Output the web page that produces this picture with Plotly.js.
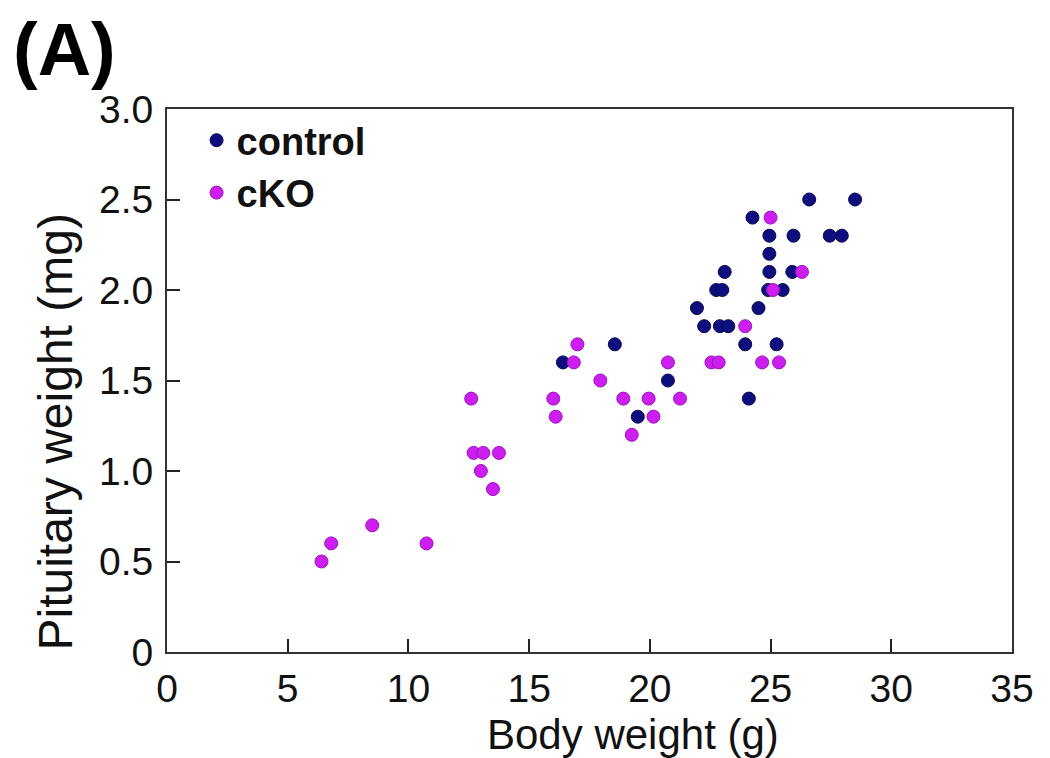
<!DOCTYPE html>
<html>
<head>
<meta charset="utf-8">
<script src="https://cdn.plot.ly/plotly-3.0.1.min.js"></script>
<style>html,body{margin:0;padding:0;background:#fff;}#chart{width:1050px;height:758px;}</style>
</head>
<body>
<div id="chart"></div>
<script>
// Body weight (g) and pituitary weight (mg)
const controlX = [26.6, 28.5, 24.25, 24.95, 25.95, 27.45, 27.95, 24.95, 23.1, 24.95, 25.9, 22.75, 23.0, 24.9, 25.5, 21.95, 24.5, 22.25, 22.9, 23.25, 23.95, 25.25, 20.75, 24.1, 19.5, 18.55, 16.4];
const controlY = [2.5, 2.5, 2.4, 2.3, 2.3, 2.3, 2.3, 2.2, 2.1, 2.1, 2.1, 2.0, 2.0, 2.0, 2.0, 1.9, 1.9, 1.8, 1.8, 1.8, 1.7, 1.7, 1.5, 1.4, 1.3, 1.7, 1.6];
const ckoX = [25.0, 26.3, 25.1, 23.95, 20.75, 22.55, 22.85, 24.65, 25.35, 19.95, 21.25, 20.15, 17.0, 16.85, 17.95, 16.0, 18.9, 16.1, 19.25, 12.6, 12.7, 13.1, 13.75, 13.0, 13.5, 8.5, 6.8, 10.75, 6.4];
const ckoY = [2.4, 2.1, 2.0, 1.8, 1.6, 1.6, 1.6, 1.6, 1.6, 1.4, 1.4, 1.3, 1.7, 1.6, 1.5, 1.4, 1.4, 1.3, 1.2, 1.4, 1.1, 1.1, 1.1, 1.0, 0.9, 0.7, 0.6, 0.6, 0.5];
const xTicks = [0, 5, 10, 15, 20, 25, 30, 35];
const yTicks = [0, 0.5, 1.0, 1.5, 2.0, 2.5, 3.0];
const yTickText = ["0", "0.5", "1.0", "1.5", "2.0", "2.5", "3.0"];

const FONT = "Liberation Sans, Arial, sans-serif";
const traces = [
  {x: controlX, y: controlY, type: "scatter", mode: "markers", name: "control",
   marker: {color: "#0e0e7e", size: 13, line: {color: "#08084e", width: 1}}},
  {x: ckoX, y: ckoY, type: "scatter", mode: "markers", name: "cKO",
   marker: {color: "#cc1fef", size: 13, line: {color: "#a010c0", width: 1}}}
];
const axisCommon = {
  showgrid: false, zeroline: false, showline: true, mirror: true,
  linecolor: "#333", linewidth: 2, ticks: "inside", ticklen: 13, tickwidth: 2,
  tickcolor: "#222", tickfont: {family: FONT, size: 39, color: "#111"}
};
const layout = {
  width: 1050, height: 758,
  margin: {l: 167, r: 38, t: 109, b: 106},
  paper_bgcolor: "#fff", plot_bgcolor: "#fff",
  showlegend: true,
  legend: {x: 0.035, y: 1.0, xanchor: "left", yanchor: "top", bgcolor: "rgba(0,0,0,0)",
           font: {family: FONT, size: 38, color: "#111", weight: "bold"}, tracegroupgap: 0},
  xaxis: Object.assign({}, axisCommon, {range: [0, 35], tickvals: xTicks, ticktext: xTicks.map(String), ticklabelstandoff: 1}),
  yaxis: Object.assign({}, axisCommon, {range: [0, 3], tickvals: yTicks, ticktext: yTickText, ticklabelstandoff: 4}),
  annotations: [
    {text: "(A)", xref: "paper", yref: "paper", x: -0.185, y: 1.11, xanchor: "left", yanchor: "middle", showarrow: false,
     font: {family: "Liberation Sans Narrow, Arial Narrow, sans-serif", size: 74, color: "#000", weight: "bold"}},
    {text: "Body weight (g)", xref: "paper", yref: "paper", x: 0.552, y: -0.152, xanchor: "center", yanchor: "middle", showarrow: false,
     font: {family: FONT, size: 42, color: "#111"}},
    {text: "Pituitary weight (mg)", xref: "paper", yref: "paper", x: -0.132, y: 0.405, xanchor: "center", yanchor: "middle", textangle: -90, showarrow: false,
     font: {family: FONT, size: 48, color: "#111"}}
  ]
};
Plotly.newPlot("chart", traces, layout, {displayModeBar: false, staticPlot: true});
</script>
</body>
</html>
